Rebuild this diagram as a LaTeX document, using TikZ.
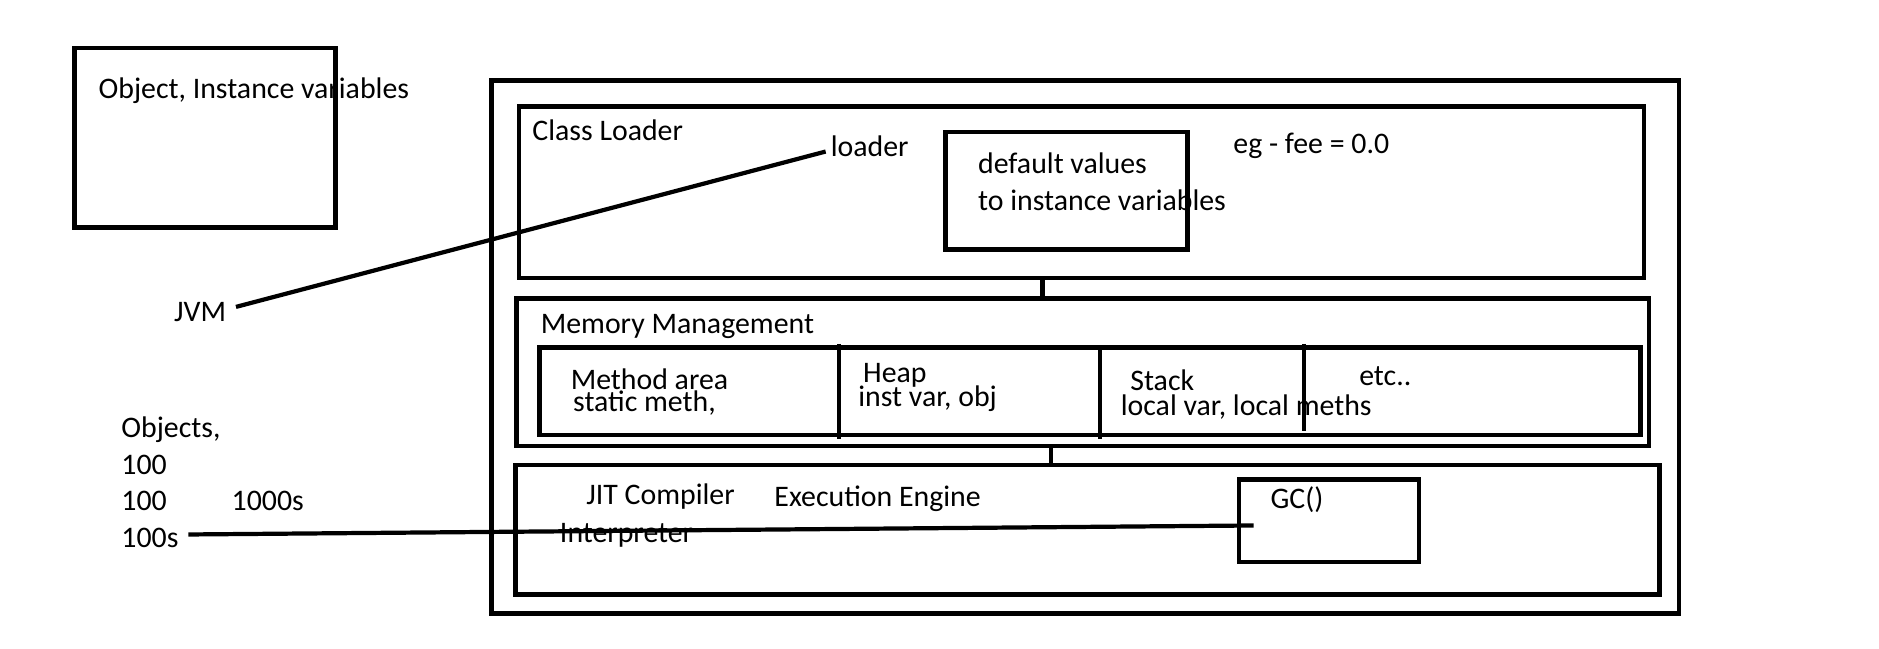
\documentclass[tikz,border=0pt]{standalone}
\usepackage{fontspec}
\setmainfont{Carlito}
\usetikzlibrary{fit}
\tikzset{box/.style={draw, line width=2.6pt, inner sep=0pt},
   lbl/.style={anchor=base west, inner sep=0pt, font=\fontsize{17pt}{20pt}\selectfont},
   wire/.style={draw, line width=2.4pt},
   sep/.style={draw, line width=2pt}}
\begin{document}
\begin{tikzpicture}[x=0.024cm,y=-0.024cm]

\useasboundingbox (0,0) rectangle (1568,541);
%\draw[help lines,step=50] (0,0) grid (1568,541);

% boxes
\node[box, fit={(62,40) (280,190)}] (obj) {};
\node[box, fit={(410,67) (1401,512)}] (jvmbox) {};
\node[box, fit={(433,89) (1372,232)}] (cl) {};
\node[box, fit={(789,110) (991,208)}] (dv) {};
\node[box, fit={(431,249) (1376,372)}] (mm) {};
\node[box, fit={(450,290) (1369,363)}] (mrow) {};
\node[box, fit={(430,388) (1385,496)}] (ee) {};
\node[box, fit={(1034,400) (1184,469)}] (gc) {};

\foreach \x/\a/\b in {700/287/366, 918/290/366, 1088/287/360} {
	\draw[sep] (\x,\a) -- (\x,\b) ;
}

% texts
\node[lbl] (objtxt) at (82,82) {Object, Instance variables};
\node[lbl] (jvm) at (145,268) {JVM};
\node[lbl] (cltxt) at (444,117) {Class Loader};
\node[lbl] (loader) at (693,131) {loader};
\node[lbl] (dv1) at (816,145) {default values};
\node[lbl] (dv2) at (816,176) {to instance variables};
\node[lbl] (eg) at (1029,128) {eg - fee = 0.0};
\node[lbl] (mmtxt) at (451,278) {Memory Management};
\node[lbl] (ma1) at (476,325) {Method area};
\node[lbl] (ma2) at (478,343) {static meth,};
\node[lbl] (hp1) at (720,319) {Heap};
\node[lbl] (hp2) at (716,339) {inst var, obj};
\node[lbl] (st1) at (943,326) {Stack};
\node[lbl] (st2) at (935,347) {local var, local meths};
\node[lbl] (etc) at (1134,322) {etc..};
\node[lbl] (jit) at (489,421) {JIT Compiler};
\node[lbl] (eetxt) at (646,423) {Execution Engine};
\node[lbl] (intp) at (467,453) {Interpreter};
\node[lbl] (gctxt) at (1060,424) {GC()};
\node[lbl] (objs) at (101,365) {Objects,};
\node[lbl] (n100a) at (101,396) {100};
\node[lbl] (n100b) at (101,426) {100};
\node[lbl] (n1000s) at (193,426) {1000s};
\node[lbl] (n100s) at (101,457) {100s};

% connectors
\coordinate (c1) at (870,0);
\coordinate (c2) at (877,0);
\draw[wire] (cl.south -| c1) -- (mm.north -| c1);
\draw[wire] (mm.south -| c2) -- (ee.north -| c2);

\draw[wire] ([shift={(8,-4)}]jvm.east) -- ([shift={(-4,4)}]loader.west);
\draw[wire] ([shift={(8,-3)}]n100s.east) -- ([shift={(14,4)}]gc.west);

\end{tikzpicture}
\end{document}
